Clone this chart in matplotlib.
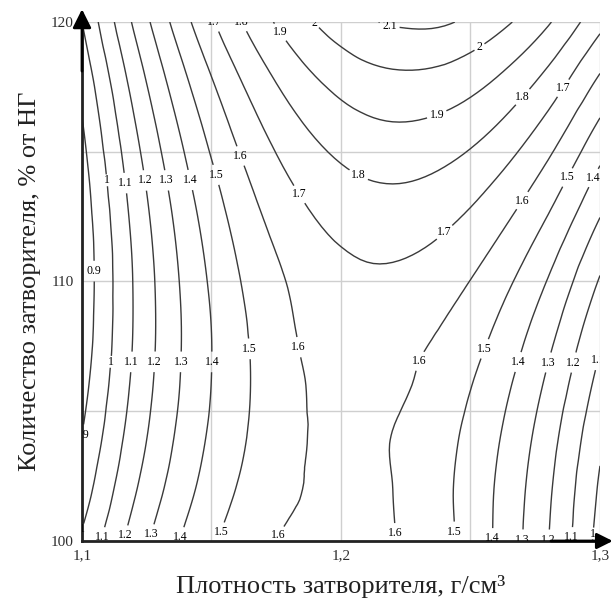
import numpy as np
import matplotlib
matplotlib.use('Agg')
import matplotlib.pyplot as plt
import matplotlib.tri as mtri
from matplotlib.ticker import FixedLocator, FixedFormatter

plt.rcParams['font.family'] = ['Liberation Serif', 'DejaVu Serif']

# --- ДАННЫЕ ---
# плотность затворителя, г/см3 (узлы сетки)
plotnost = [1.10, 1.12, 1.14, 1.16, 1.18, 1.20, 1.22, 1.24, 1.26, 1.28, 1.30]
# количество затворителя, % от НГ (узлы сетки)
kolichestvo = [100, 102, 104, 106, 108, 110, 112, 114, 116, 118, 120]
# отклик в узлах сетки: строки - количество, столбцы - плотность
otklik = [
    [1.015, 1.242, 1.418, 1.542, 1.614, 1.635, 1.604, 1.522, 1.388, 1.202, 0.965],
    [0.951, 1.187, 1.371, 1.504, 1.585, 1.625, 1.600, 1.518, 1.393, 1.216, 0.987],
    [0.902, 1.146, 1.339, 1.480, 1.572, 1.633, 1.598, 1.528, 1.411, 1.241, 1.020],
    [0.866, 1.119, 1.320, 1.470, 1.572, 1.641, 1.620, 1.552, 1.442, 1.280, 1.066],
    [0.843, 1.105, 1.315, 1.473, 1.588, 1.652, 1.638, 1.588, 1.486, 1.330, 1.121],
    [0.835, 1.105, 1.324, 1.491, 1.606, 1.670, 1.681, 1.639, 1.543, 1.394, 1.191],
    [0.840, 1.119, 1.346, 1.522, 1.646, 1.718, 1.738, 1.704, 1.616, 1.474, 1.278],
    [0.860, 1.147, 1.383, 1.567, 1.700, 1.781, 1.809, 1.782, 1.701, 1.566, 1.376],
    [0.893, 1.189, 1.433, 1.626, 1.767, 1.857, 1.893, 1.873, 1.799, 1.668, 1.483],
    [0.939, 1.244, 1.497, 1.698, 1.848, 1.946, 1.990, 1.978, 1.908, 1.782, 1.599],
    [1.000, 1.313, 1.575, 1.785, 1.943, 2.050, 2.110, 2.110, 2.032, 1.910, 1.730],
]
urovni = [0.9, 1.0, 1.1, 1.2, 1.3, 1.4, 1.5, 1.6, 1.7, 1.8, 1.9, 2.0, 2.1]

x_ticks = [1.1, 1.2, 1.3]
x_tick_labels = ['1,1', '1,2', '1,3']
y_ticks = [100, 110, 120]
y_tick_labels = ['100', '110', '120']

# места подписей изолиний
label_pts = [
    (1.1097, 113.9), (1.1174, 113.8), (1.1247, 113.9), (1.1328, 113.9),
    (1.1413, 113.9), (1.1514, 114.1), (1.1602, 114.8), (1.1830, 113.3),
    (1.1116, 106.9), (1.1193, 106.9), (1.1290, 106.9), (1.1390, 106.9),
    (1.1506, 106.9), (1.1640, 107.4), (1.1857, 107.5),
    (1.1058, 110.4), (1.1019, 103.9),
    (1.1010, 100.15), (1.1095, 100.1), (1.1192, 100.15), (1.1288, 100.2),
    (1.1398, 100.1), (1.1533, 100.35), (1.1745, 100.3),
    (1.2216, 100.3), (1.2440, 100.35), (1.2583, 100.1), (1.2699, 100.05),
    (1.2795, 100.05), (1.2876, 100.15), (1.2960, 100.3),
    (1.2313, 106.9), (1.2556, 107.4), (1.2683, 106.9), (1.2792, 106.9),
    (1.2888, 106.9), (1.2980, 107.0),
    (1.2409, 111.8), (1.2703, 113.1), (1.2876, 114.0), (1.2973, 114.0),
    (1.2865, 117.4), (1.2703, 117.1),
    (1.2062, 114.0), (1.2371, 116.4), (1.2537, 119.0),
    (1.1494, 119.95), (1.1598, 119.95), (1.1764, 119.6), (1.1888, 119.85),
    (1.2189, 119.95),
]

# --- ГРАФИК ---
fig = plt.figure(figsize=(6.14, 6.11), dpi=100)
ax = fig.add_axes([82 / 614, 70 / 611, 518 / 614, 519 / 611])

# сглаженные изолинии по узлам сетки
X, Y = np.meshgrid(plotnost, kolichestvo)
Z = np.array(otklik)
tri = mtri.Triangulation(X.ravel(), (Y.ravel() - 100) / 100)
interp = mtri.CubicTriInterpolator(tri, Z.ravel(), kind='geom')
tri_f, z_f = mtri.UniformTriRefiner(tri).refine_field(Z.ravel(), triinterpolator=interp, subdiv=3)
tri_f = mtri.Triangulation(tri_f.x, tri_f.y * 100 + 100, tri_f.triangles)

cs = ax.tricontour(tri_f, z_f, levels=urovni, colors='#3a3a3a', linewidths=1.0)
labels = ax.clabel(cs, fmt='%g', manual=label_pts, inline=True, inline_spacing=3, fontsize=8.5)
for t in labels:
    t.set_rotation(0)
    t.set_color('black')
    t.set_clip_on(True)

ax.set_xlim(1.1, 1.3)
ax.set_ylim(100, 120)

ax.xaxis.set_major_locator(FixedLocator(x_ticks))
ax.xaxis.set_major_formatter(FixedFormatter(x_tick_labels))
ax.xaxis.set_minor_locator(FixedLocator([1.15, 1.25]))
ax.yaxis.set_major_locator(FixedLocator(y_ticks))
ax.yaxis.set_major_formatter(FixedFormatter(y_tick_labels))
ax.yaxis.set_minor_locator(FixedLocator([105, 115]))
ax.grid(True, which='both', color='#cfcfcf', lw=1.0)
ax.set_axisbelow(True)
ax.tick_params(which='both', length=0, labelsize=11, labelcolor='#2e2e2e', pad=6)

for s in ['top', 'right']:
    ax.spines[s].set_visible(False)
for s in ['left', 'bottom']:
    ax.spines[s].set_linewidth(2.0)
    ax.spines[s].set_color('#222222')

# стрелки осей
ax.annotate('', xy=(0, 1.03), xytext=(0, 0.9), xycoords='axes fraction',
            arrowprops=dict(arrowstyle='-|>', color='black', lw=2.0, mutation_scale=28))
ax.annotate('', xy=(1.03, 0), xytext=(0.9, 0), xycoords='axes fraction',
            arrowprops=dict(arrowstyle='-|>', color='black', lw=2.0, mutation_scale=24))

ax.set_xlabel('Плотность затворителя, г/см³', fontsize=19, color='#222222', labelpad=9)
ax.set_ylabel('Количество затворителя, % от НГ', fontsize=19, color='#222222', labelpad=7)

fig.savefig('out.png', dpi=100)
